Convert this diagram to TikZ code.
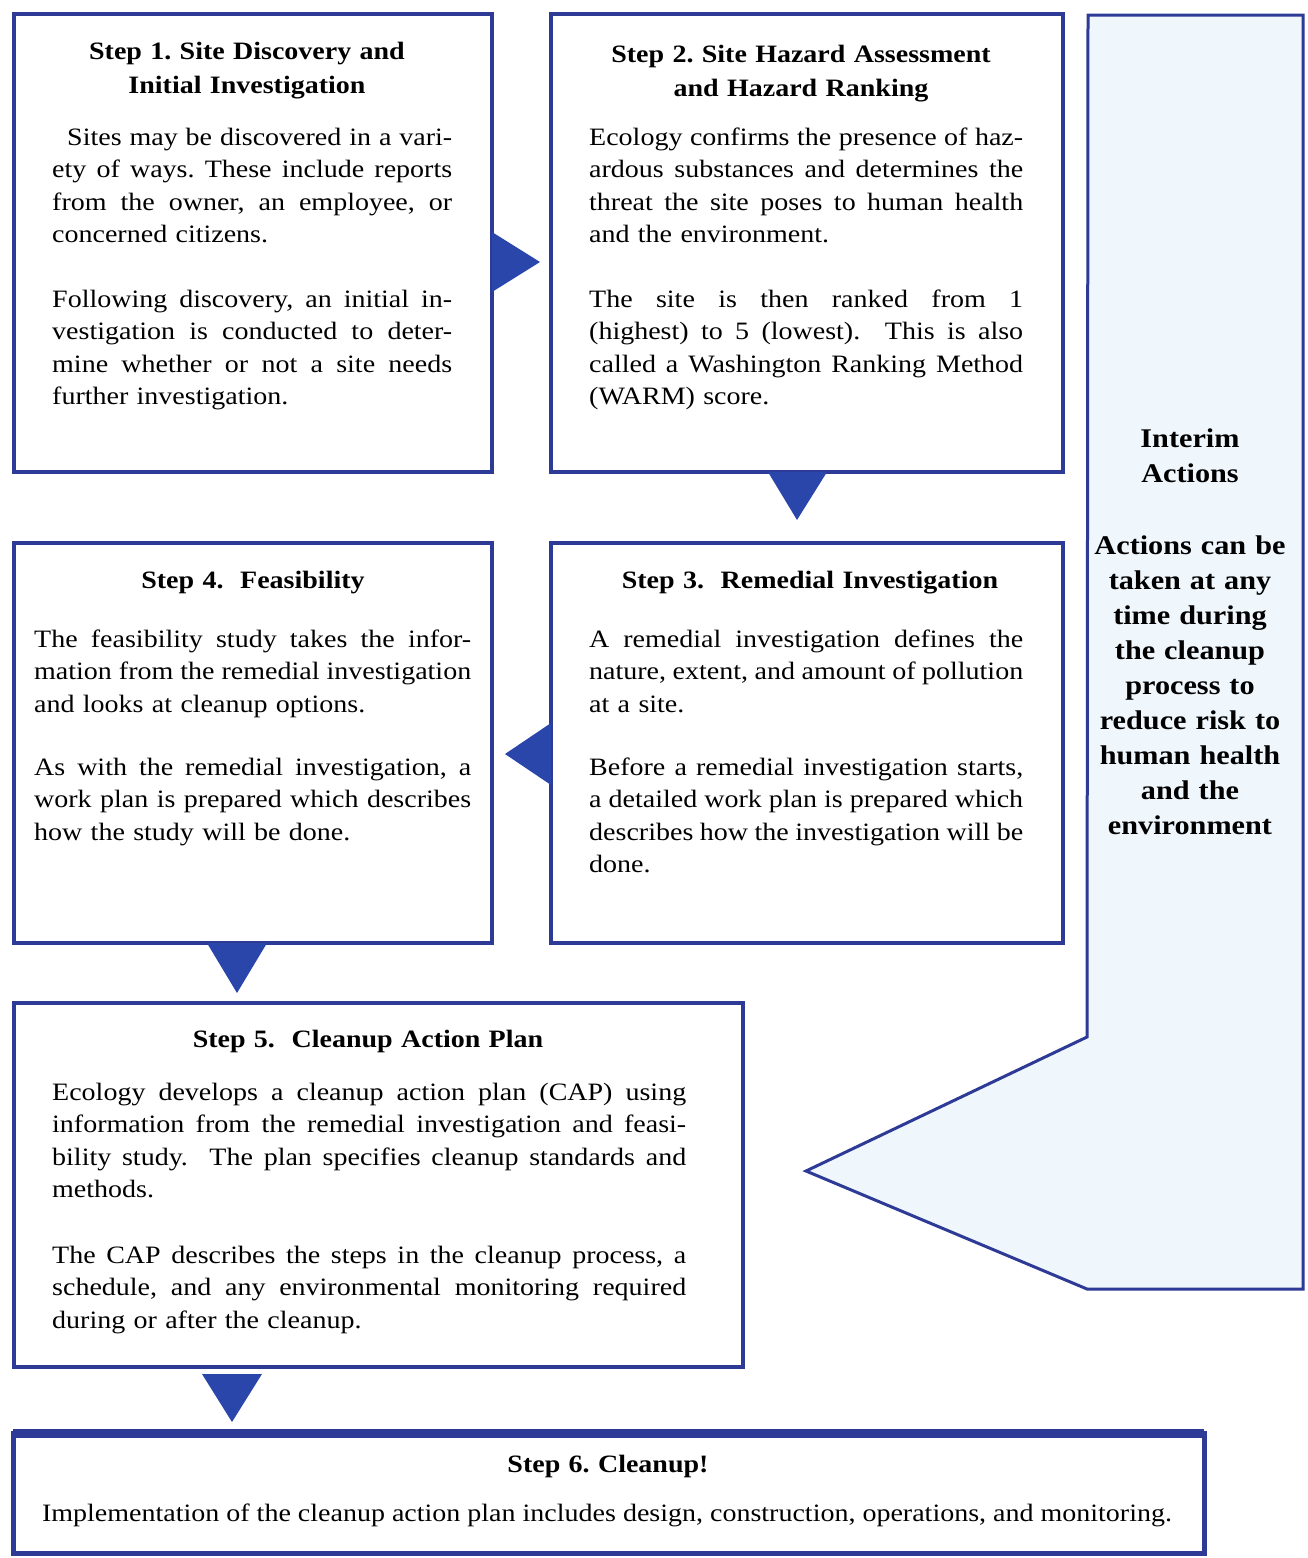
\documentclass[tikz,border=0pt]{standalone}
\usepackage{fontspec}
\setmainfont{Liberation Serif}[FakeStretch=1.12]
\frenchspacing
\definecolor{boxblue}{RGB}{45,58,150}
\definecolor{arrowblue}{RGB}{42,70,170}
\definecolor{interimfill}{RGB}{240,247,252}
\newdimen\jlwidth
\newcommand{\jline}[1]{\leavevmode\hbox to \jlwidth{\spaceskip=\fontdimen2\font plus 1fil minus 0.4\fontdimen2\font\relax #1}}
\begin{document}
\begin{tikzpicture}[x=1pt,y=-1pt,
  stepbox/.style={draw=boxblue, line width=4pt, fill=white, inner sep=0pt, outer sep=0pt, anchor=north west},
  arrowtri/.style={fill=arrowblue},
  body/.style={inner sep=0pt, anchor=base west, align=left, font=\fontsize{25}{32.5}\selectfont},
  bodyw/.style={body, text width=#1},
  title/.style={inner sep=0pt, anchor=base, align=center, text width=500, font=\bfseries\fontsize{25}{34}\selectfont},
  interim/.style={inner sep=0pt, anchor=base, align=center, text width=215, font=\bfseries\fontsize{27}{35}\selectfont},
]
\useasboundingbox (0,0) rectangle (1307,1558);

% interim actions arrow shape
\draw[draw=boxblue, line width=3pt, fill=interimfill, line join=miter]
  (1088,15) -- (1303,15) -- (1303,1289) -- (1087,1289) -- (806,1171) -- (1087,1037) -- cycle;

% boxes
\node[stepbox, minimum width=478, minimum height=458] (b1) at (14,14) {};
\node[stepbox, minimum width=512, minimum height=458] (b2) at (551,14) {};
\node[stepbox, minimum width=478, minimum height=400] (b4) at (14,543) {};
\node[stepbox, minimum width=512, minimum height=400] (b3) at (551,543) {};
\node[stepbox, minimum width=729, minimum height=364] (b5) at (14,1003) {};
\node[stepbox, line width=5pt, minimum width=1191, minimum height=120] (b6) at (13,1433) {};
\draw[boxblue, line width=9pt] (b6.north west) -- (b6.north east);

% flow triangles
\fill[arrowtri] (492,232) -- (540,262) -- (492,292) -- cycle;
\fill[arrowtri] (768,472) -- (827,472) -- (797,520) -- cycle;
\fill[arrowtri] (551,723) -- (551,785) -- (505,754) -- cycle;
\fill[arrowtri] (207,943) -- (267,943) -- (237,993) -- cycle;
\fill[arrowtri] (202,1374) -- (262,1374) -- (232,1422) -- cycle;

% Step 1
\node[title] (t1) at (247,59) {Step 1. Site Discovery and\\Initial Investigation};
\node[bodyw=400] (p1a) at (52,145) {\global\jlwidth=400pt\jline{\hspace*{15pt}Sites may be discovered in a vari-}\\\jline{ety of ways. These include reports}\\\jline{from the owner, an employee, or}\\concerned citizens.};
\node[bodyw=400] (p1b) at (52,307) {\global\jlwidth=400pt\jline{Following discovery, an initial in-}\\\jline{vestigation is conducted to deter-}\\\jline{mine whether or not a site needs}\\further investigation.};

% Step 2
\node[title] (t2) at (801,62) {Step 2. Site Hazard Assessment\\and Hazard Ranking};
\node[bodyw=434] (p2a) at (589,145) {\global\jlwidth=434pt\jline{Ecology confirms the presence of haz-}\\\jline{ardous substances and determines the}\\\jline{threat the site poses to human health}\\and the environment.};
\node[bodyw=434] (p2b) at (589,307) {\global\jlwidth=434pt\jline{The site is then ranked from 1}\\\jline{(highest) to 5 (lowest).\ \ This is also}\\\jline{called a Washington Ranking Method}\\(WARM) score.};

% Step 4
\node[title] (t4) at (253,588) {Step 4.\ \ Feasibility};
\node[bodyw=437] (p4a) at (34,647) {\global\jlwidth=437pt\jline{The feasibility study takes the infor-}\\\jline{mation from the remedial investigation}\\and looks at cleanup options.};
\node[bodyw=437] (p4b) at (34,775) {\global\jlwidth=437pt\jline{As with the remedial investigation, a}\\\jline{work plan is prepared which describes}\\how the study will be done.};

% Step 3
\node[title] (t3) at (810,588) {Step 3.\ \ Remedial Investigation};
\node[bodyw=434] (p3a) at (589,647) {\global\jlwidth=434pt\jline{A remedial investigation defines the}\\\jline{nature, extent, and amount of pollution}\\at a site.};
\node[bodyw=434] (p3b) at (589,775) {\global\jlwidth=434pt\jline{Before a remedial investigation starts,}\\\jline{a detailed work plan is prepared which}\\\jline{describes how the investigation will be}\\done.};

% Step 5
\node[title] (t5) at (368,1047) {Step 5.\ \ Cleanup Action Plan};
\node[bodyw=634] (p5a) at (52,1100) {\global\jlwidth=634pt\jline{Ecology develops a cleanup action plan (CAP) using}\\\jline{information from the remedial investigation and feasi-}\\\jline{bility study.\ \ The plan specifies cleanup standards and}\\methods.};
\node[bodyw=634] (p5b) at (52,1263) {\global\jlwidth=634pt\jline{The CAP describes the steps in the cleanup process, a}\\\jline{schedule, and any environmental monitoring required}\\during or after the cleanup.};

% Step 6
\node[title] (t6) at (608,1472) {Step 6. Cleanup!};
\node[body, anchor=base, align=center] (p6) at (607,1521) {Implementation of the cleanup action plan includes design, construction, operations, and monitoring.};

% Interim
\node[interim] (ti) at (1190,447) {Interim\\Actions};
\node[interim] (tib) at (1190,554) {Actions can be\\taken at any\\time during\\the cleanup\\process to\\reduce risk to\\human health\\and the\\environment};
\end{tikzpicture}
\end{document}
